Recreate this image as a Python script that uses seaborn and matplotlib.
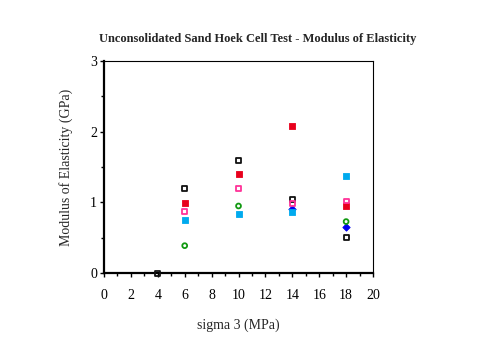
import matplotlib
matplotlib.use("Agg")
import matplotlib.pyplot as plt
import seaborn as sns
import pandas as pd
from matplotlib.ticker import MultipleLocator

sns.set_style("white")
plt.rcParams['font.family'] = ['Liberation Serif', 'DejaVu Serif']

# Data (sigma 3 in MPa, modulus in GPa)
black_x = [4, 6, 10, 14, 18]
black_y = [0.0, 1.20, 1.59, 1.04, 0.50]
red_x = [6, 10, 14, 18]
red_y = [0.99, 1.40, 2.08, 0.95]
pink_x = [6, 10, 14, 18]
pink_y = [0.87, 1.20, 0.99, 1.02]
cyan_x = [6, 10, 14, 18]
cyan_y = [0.75, 0.83, 0.86, 1.38]
green_x = [6, 10, 18]
green_y = [0.39, 0.95, 0.73]
blue_x = [14, 18]
blue_y = [0.91, 0.66]

series = [
    (black_x, black_y, "#111111", "s", False),
    (blue_x, blue_y, "#0000ee", "D", True),
    (red_x, red_y, "#e8001c", "s", True),
    (pink_x, pink_y, "#ff3399", "s", False),
    (cyan_x, cyan_y, "#00aaee", "s", True),
    (green_x, green_y, "#119911", "o", False),
]

fig = plt.figure(figsize=(4.8, 3.6), dpi=100)
ax = fig.add_axes([0.2167, 0.2408, 0.5604, 0.5906])

for xs, ys, col, mk, filled in series:
    df = pd.DataFrame({"x": xs, "y": ys})
    if filled:
        sns.scatterplot(data=df, x="x", y="y", ax=ax, marker=mk, s=14,
                        color=col, edgecolor=col, linewidth=0.6, zorder=3,
                        clip_on=False)
    else:
        sns.scatterplot(data=df, x="x", y="y", ax=ax, marker=mk, s=12,
                        facecolor="none", edgecolor=col, linewidth=1.3, zorder=3,
                        clip_on=False)

ax.set_xlim(0, 20)
ax.set_ylim(0, 3)
ax.xaxis.set_major_locator(MultipleLocator(2))
ax.xaxis.set_minor_locator(MultipleLocator(1))
ax.yaxis.set_major_locator(MultipleLocator(1))
ax.yaxis.set_minor_locator(MultipleLocator(0.5))
ax.tick_params(which="both", direction="out", top=False, right=False,
               bottom=True, left=True, labelsize=10, colors="black")
ax.tick_params(which="major", length=3, width=1)
ax.tick_params(which="minor", length=2, width=1)
ax.tick_params(axis="x", which="major", pad=8)
ax.tick_params(axis="y", which="major", pad=2)
for side, sp in ax.spines.items():
    sp.set_visible(True)
    sp.set_color("black")
ax.spines["left"].set_linewidth(1.6)
ax.spines["bottom"].set_linewidth(1.6)
ax.spines["top"].set_linewidth(0.8)
ax.spines["right"].set_linewidth(0.8)

ax.set_xlabel("sigma 3 (MPa)", fontsize=10, labelpad=12)
ax.set_ylabel("Modulus of Elasticity (GPa)", fontsize=10, labelpad=12)
fig.text(0.5375, 0.893, "Unconsolidated Sand Hoek Cell Test - Modulus of Elasticity",
         ha="center", va="center", fontsize=9, fontweight="bold")

fig.savefig("out.png", dpi=100, facecolor="white")
